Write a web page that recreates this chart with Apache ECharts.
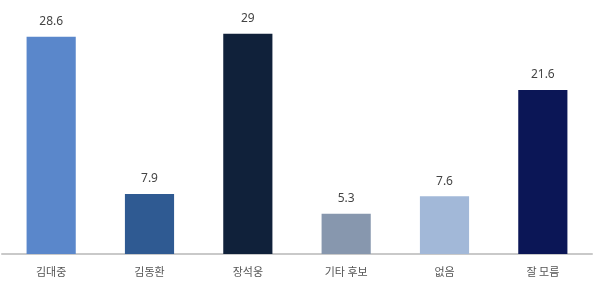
<!DOCTYPE html>
<html><head><meta charset="utf-8">
<script src="https://cdn.jsdelivr.net/npm/echarts@6/dist/echarts.min.js"></script>
<style>html,body{margin:0;padding:0;background:#fff}#c{width:600px;height:293px}</style>
</head><body><div id="c"></div>
<script>
const categories = ['김대중', '김동환', '장석웅', '기타 후보', '없음', '잘 모름'];
const values = [28.6, 7.9, 29, 5.3, 7.6, 21.6];
const colors = ['#5a87cb', '#2f5a92', '#10213a', '#8797ae', '#a2b8d8', '#0b1656'];
const chart = echarts.init(document.getElementById('c'), null, {renderer: 'canvas'});
chart.setOption({
  animation: false,
  grid: {left: 2, right: 8, top: 11, bottom: 39},
  xAxis: {
    type: 'category', data: categories,
    axisLine: {lineStyle: {color: '#c9c9c9', width: 2}},
    axisTick: {show: false},
    axisLabel: {color: '#555', fontSize: 11, margin: 12, fontFamily: 'Noto Sans CJK KR'}
  },
  yAxis: {type: 'value', min: 0, max: 32, show: false, splitLine: {show: false}},
  series: [{
    type: 'bar', barWidth: '50%',
    data: values.map((v, i) => ({value: v, itemStyle: {color: colors[i]}})),
    label: {show: true, position: 'top', distance: 9, color: '#444', fontSize: 12, fontFamily: 'Noto Sans'}
  }]
});
</script></body></html>
